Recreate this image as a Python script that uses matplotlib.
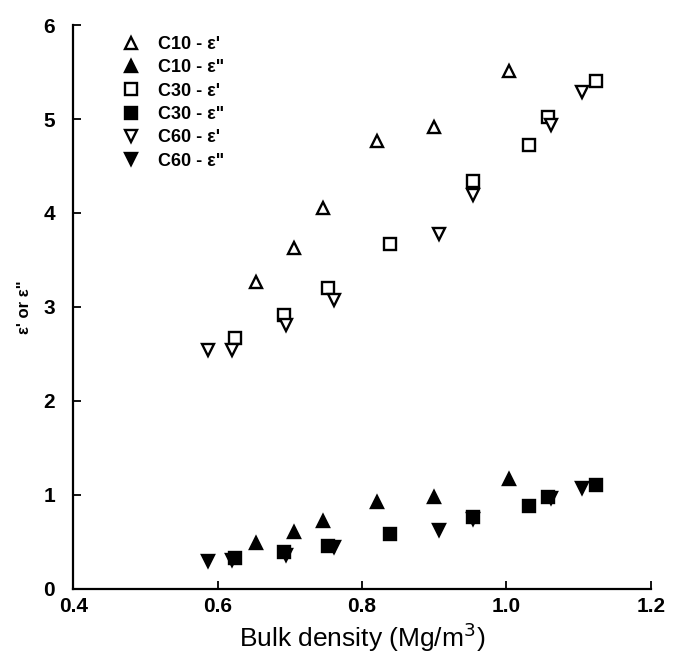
import matplotlib
matplotlib.use("Agg")
import matplotlib.pyplot as plt

plt.rcParams['font.family'] = ['Liberation Sans', 'DejaVu Sans']

# bulk density (Mg/m^3) and permittivity
c10_x = [0.653, 0.706, 0.746, 0.821, 0.900, 1.003]
c10_e1 = [3.26, 3.63, 4.05, 4.77, 4.91, 5.51]
c10_e2 = [0.49, 0.60, 0.72, 0.92, 0.98, 1.17]

c30_x = [0.624, 0.692, 0.753, 0.839, 0.954, 1.031, 1.057, 1.124]
c30_e1 = [2.67, 2.91, 3.20, 3.67, 4.34, 4.72, 5.02, 5.40]
c30_e2 = [0.33, 0.39, 0.46, 0.585, 0.76, 0.88, 0.98, 1.10]

c60_x = [0.587, 0.620, 0.694, 0.761, 0.907, 0.954, 1.061, 1.105]
c60_e1 = [2.54, 2.54, 2.81, 3.07, 3.78, 4.19, 4.94, 5.29]
c60_e2 = [0.30, 0.31, 0.36, 0.44, 0.63, 0.74, 0.97, 1.07]

fig = plt.figure(figsize=(6.78, 6.60), dpi=100)
ax = fig.add_axes([0.108, 0.108, 0.852, 0.854])

kw = dict(linestyle='none', color='black', markeredgewidth=1.7)
ax.plot(c10_x, c10_e1, marker='^', markersize=9, markerfacecolor='white', label="C10 - ε'", **kw)
ax.plot(c10_x, c10_e2, marker='^', markersize=9, label='C10 - ε"', **kw)
ax.plot(c30_x, c30_e1, marker='s', markersize=8, markerfacecolor='white', label="C30 - ε'", **kw)
ax.plot(c30_x, c30_e2, marker='s', markersize=8, label='C30 - ε"', **kw)
ax.plot(c60_x, c60_e1, marker='v', markersize=9, markerfacecolor='white', label="C60 - ε'", **kw)
ax.plot(c60_x, c60_e2, marker='v', markersize=9, label='C60 - ε"', **kw)

ax.set_xlim(0.4, 1.2)
ax.set_ylim(0, 6)
ax.set_xticks([0.4, 0.6, 0.8, 1.0, 1.2])
ax.set_xticklabels(['0.4', '0.6', '0.8', '1.0', '1.2'])
ax.set_yticks(range(7))

ax.spines['top'].set_visible(False)
ax.spines['right'].set_visible(False)
ax.spines['left'].set_linewidth(1.6)
ax.spines['bottom'].set_linewidth(1.6)
ax.tick_params(direction='in', length=6, width=1.3, labelsize=15)
ax.tick_params(axis='x', pad=6)
ax.tick_params(axis='y', pad=13)
for lab in ax.get_xticklabels() + ax.get_yticklabels():
    lab.set_fontweight('bold')

ax.set_xlabel('Bulk density (Mg/m$^3$)', fontsize=19, labelpad=3)
ax.set_ylabel('ε\' or ε"', fontsize=12, fontweight='bold', labelpad=8)

leg = ax.legend(loc='upper left', bbox_to_anchor=(0.065, 1.0), frameon=False,
                fontsize=13, handletextpad=1.0, labelspacing=0.35,
                handlelength=1.0, borderaxespad=0.2)
for t in leg.get_texts():
    t.set_fontweight('bold')

fig.savefig('out.png', dpi=100)
